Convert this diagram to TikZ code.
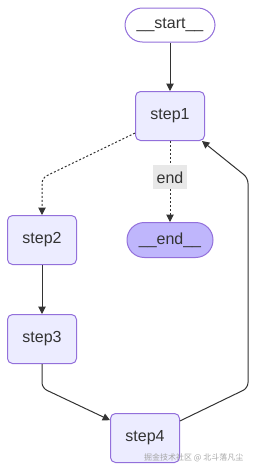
\documentclass[tikz,border=0pt]{standalone}
\usepackage{fontspec}
\setmainfont{Liberation Sans}
\newfontfamily\cjk{Noto Sans CJK SC}
\usetikzlibrary{arrows.meta}
\definecolor{nodefill}{HTML}{ECECFF}
\definecolor{nodeline}{HTML}{9370DB}
\definecolor{endfill}{HTML}{BFB6FC}
\definecolor{edgecol}{HTML}{333333}
\definecolor{labelfill}{HTML}{E8E8E8}
\begin{document}
\begin{tikzpicture}[x=0.75pt, y=-0.75pt,
  font=\fontsize{12}{14}\selectfont, text=edgecol,
  stepbox/.style={draw=nodeline, fill=nodefill, line width=0.75pt, rounded corners=3.75pt, minimum width=51.75pt, minimum height=36.75pt},
  termbox/.style={draw=nodeline, line width=0.75pt, rounded corners=13pt, minimum width=67.5pt, minimum height=25.5pt},
  edge/.style={draw=edgecol, line width=0.75pt, rounded corners=4pt, -{Triangle[length=5.5pt,width=5.5pt]}},
  dots/.style={dash pattern=on 1.5pt off 1.5pt},
  edgelabel/.style={fill=labelfill, sharp corners, inner xsep=3pt, minimum height=18pt}]
\useasboundingbox (0,0) rectangle (256,471);
\node[termbox, fill=white] (start) at (170,25) {\_\_start\_\_};
\node[stepbox] (step1) at (170,116) {step1};
\node[stepbox] (step2) at (42,240) {step2};
\node[termbox, fill=endfill, minimum width=64.5pt, minimum height=26.25pt] (end) at (170,240) {\_\_end\_\_};
\node[stepbox] (step3) at (42,339) {step3};
\node[stepbox] (step4) at (145,438) {step4};
\node[anchor=east, text=black!35, font=\cjk\fontsize{6}{7}\selectfont] (wmark) at (248,458) {掘金技术社区 @ 北斗落凡尘};

\draw[edge] (start) -- (step1);
\draw[edge, dots] (step1.206) -- (42,178) -- (step2);
\draw[edge, dots] (step1) -- node[edgelabel, pos=0.45] (lbl) {end} (end);
\draw[edge] (step2) -- (step3);
\draw[edge] (step3) -- (42,388) -- (step4.153);
\draw[edge] (step4.26) -- (248,388) -- (248,178) -- (step1.-38);
\end{tikzpicture}
\end{document}
